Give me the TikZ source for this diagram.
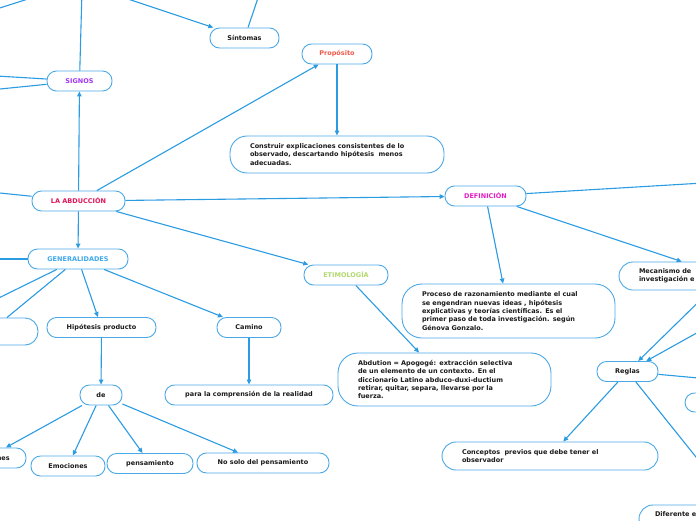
\documentclass[tikz,border=0pt]{standalone}
\usepackage{fontspec}
\setmainfont{DejaVu Sans}
\usetikzlibrary{arrows.meta, positioning}
\definecolor{linea}{HTML}{2B9BE2}
\definecolor{borde}{HTML}{4AA8E6}
\definecolor{texto}{HTML}{1A1A1A}
\definecolor{proposito}{HTML}{F05A4B}
\definecolor{signos}{HTML}{A234F0}
\definecolor{abduccion}{HTML}{E0155A}
\definecolor{definicion}{HTML}{E41DC4}
\definecolor{generalidades}{HTML}{3DA9EC}
\definecolor{etimologia}{HTML}{B3D86E}

\begin{document}
\begin{tikzpicture}[x=1pt, y=-1pt, >={Triangle[length=5pt, width=4.5pt]},
  font=\fontsize{6.5}{8.4}\selectfont\bfseries, text=texto,
  tema/.style={draw=borde, fill=white, line width=0.9pt, rounded corners=9.5pt,
    minimum height=20pt, inner sep=0pt},
  idea/.style={draw=borde, fill=white, line width=0.9pt, align=left,
    inner xsep=20pt, inner ysep=0pt},
  flecha/.style={draw=linea, line width=1.1pt}]
  \useasboundingbox (0,0) rectangle (696,520);
  \clip (0,0) rectangle (696,520);

  % Nodos centrales
  \node[tema, minimum width=93pt, text=abduccion] (abduccion) at (78.5,201) {LA ABDUCCIÓN};
  \node[tema, minimum width=65pt, text=signos] (signos) at (79.5,81) {SIGNOS};
  \node[tema, minimum width=69pt] (sintomas) at (244.5,38) {Síntomas};
  \node[tema, minimum width=70pt, text=proposito] (proposito) at (337,54) {Propósito};
  \node[idea, text width=174pt, minimum height=37pt, rounded corners=17pt] (construir) at (337,154.5)
    {Construir explicaciones consistentes de lo\\observado, descartando hipótesis \ menos\\adecuadas.};
  \node[tema, minimum width=81pt, text=definicion] (definicion) at (485.5,196) {DEFINICIÓN};
  \node[tema, minimum width=100pt, text=generalidades] (generalidades) at (78,259) {GENERALIDADES};
  \node[tema, minimum width=84pt, text=etimologia] (etimologia) at (346,275) {ETIMOLOGÍA};

  % Definicion
  \node[idea, text width=173pt, minimum height=54pt, rounded corners=20pt] (proceso) at (508.5,311)
    {Proceso de razonamiento mediante el cual\\se engendran nuevas ideas , hipótesis\\explicativas y teorías científicas. Es el\\primer paso de toda investigación. según\\Génova Gonzalo.};
  \node[idea, text width=172pt, minimum height=28pt, rounded corners=14pt] (mecanismo) at (725,276)
    {Mecanismo de\\investigación e};
  \node[tema, minimum width=61pt] (reglas) at (627.5,371.5) {Reglas};
  \node[idea, text width=176pt, minimum height=28pt, rounded corners=14pt] (conceptos) at (550,456)
    {Conceptos \ previos que debe tener el\\observador};
  \node[tema, minimum width=60pt, minimum height=19pt] (derecha) at (715,402.5) {};
  \node[idea, inner xsep=16pt, text width=168pt, minimum height=28pt, rounded corners=14pt,
    text depth=9pt] (diferente) at (739,519) {Diferente e};

  % Etimologia
  \node[idea, text width=173pt, minimum height=53pt, rounded corners=20pt] (abdution) at (444.5,379.5)
    {Abdution = Apogogé: extracción selectiva\\de un elemento de un contexto. En el\\diccionario Latino abduco-duxi-ductium\\retirar, quitar, separa, llevarse por la\\fuerza.};

  % Generalidades
  \node[tema, minimum width=96pt, minimum height=27pt, rounded corners=13pt] (izquierda) at (-10,331.5) {};
  \node[tema, minimum width=109pt] (hipotesis) at (101.5,327.5) {Hipótesis producto};
  \node[tema, minimum width=64pt] (camino) at (249,327.5) {Camino};
  \node[tema, minimum width=42pt] (de) at (101,395) {de};
  \node[tema, minimum width=168pt] (comprension) at (249,395) {para la comprensión de la realidad};
  \node[tema, minimum width=78pt] (sensaciones) at (-13,458) {Sensaciones};
  \node[tema, minimum width=74pt] (emociones) at (68,466) {Emociones};
  \node[tema, minimum width=86pt] (pensamiento) at (150,463.5) {pensamiento};
  \node[tema, minimum width=132pt] (nosolo) at (263,463) {No solo del pensamiento};

  % Extremos fuera del recorte
  \coordinate (arribaA) at (-5,9.5);
  \coordinate (arribaB) at (28,-1);
  \coordinate (signosArriba) at (82,-10);
  \coordinate (sintomasOrigen) at (125,-2);
  \coordinate (sintomasArriba) at (259,-5);
  \coordinate (signosIzqA) at (-20,75);
  \coordinate (signosIzqB) at (-20,91);
  \coordinate (abduccionIzq) at (-20,191);
  \coordinate (definicionDer) at (720,182);
  \coordinate (generalidadesIzq) at (-20,259);
  \coordinate (generalidadesIzqB) at (-40,317);
  \coordinate (reglasOrigen) at (720,320);
  \coordinate (reglasDer) at (720,380);
  \coordinate (reglasAbajo) at (720,487);

  % Conectores
  \draw[flecha] (arribaA) -- (arribaB);
  \draw[flecha] (signos) -- (signosArriba);
  \draw[flecha] (signos) -- (signosIzqA);
  \draw[flecha] (signos) -- (signosIzqB);
  \draw[flecha, ->] (sintomasOrigen) -- (sintomas);
  \draw[flecha] (sintomas) -- (sintomasArriba);
  \draw[flecha, ->] (abduccion) -- (signos);
  \draw[flecha, ->] (abduccion) -- (proposito);
  \draw[flecha, ->] (proposito) -- (construir);
  \draw[flecha] (abduccion) -- (abduccionIzq);
  \draw[flecha, ->] (abduccion) -- (definicion);
  \draw[flecha, ->] (abduccion) -- (generalidades);
  \draw[flecha, ->] (abduccion) -- (etimologia);
  \draw[flecha] (definicion) -- (definicionDer);
  \draw[flecha, ->] (definicion) -- (proceso);
  \draw[flecha, ->] (definicion) -- (mecanismo);
  \draw[flecha, ->] (etimologia) -- (abdution);
  \draw[flecha, ->] (mecanismo) -- (reglas);
  \draw[flecha, ->] (reglasOrigen) -- (reglas);
  \draw[flecha] (reglas) -- (reglasDer);
  \draw[flecha] (reglas) -- (reglasAbajo);
  \draw[flecha, ->] (reglas) -- (conceptos);
  \draw[flecha] (generalidades) -- (generalidadesIzq);
  \draw[flecha] (generalidades) -- (generalidadesIzqB);
  \draw[flecha] (generalidades) -- (izquierda);
  \draw[flecha, ->] (generalidades) -- (hipotesis);
  \draw[flecha, ->] (generalidades) -- (camino);
  \draw[flecha, ->] (hipotesis) -- (de);
  \draw[flecha, ->] (camino) -- (comprension);
  \foreach \destino in {sensaciones, emociones, pensamiento, nosolo} {
    \draw[flecha, ->] (de) -- (\destino);
  }
\end{tikzpicture}
\end{document}
